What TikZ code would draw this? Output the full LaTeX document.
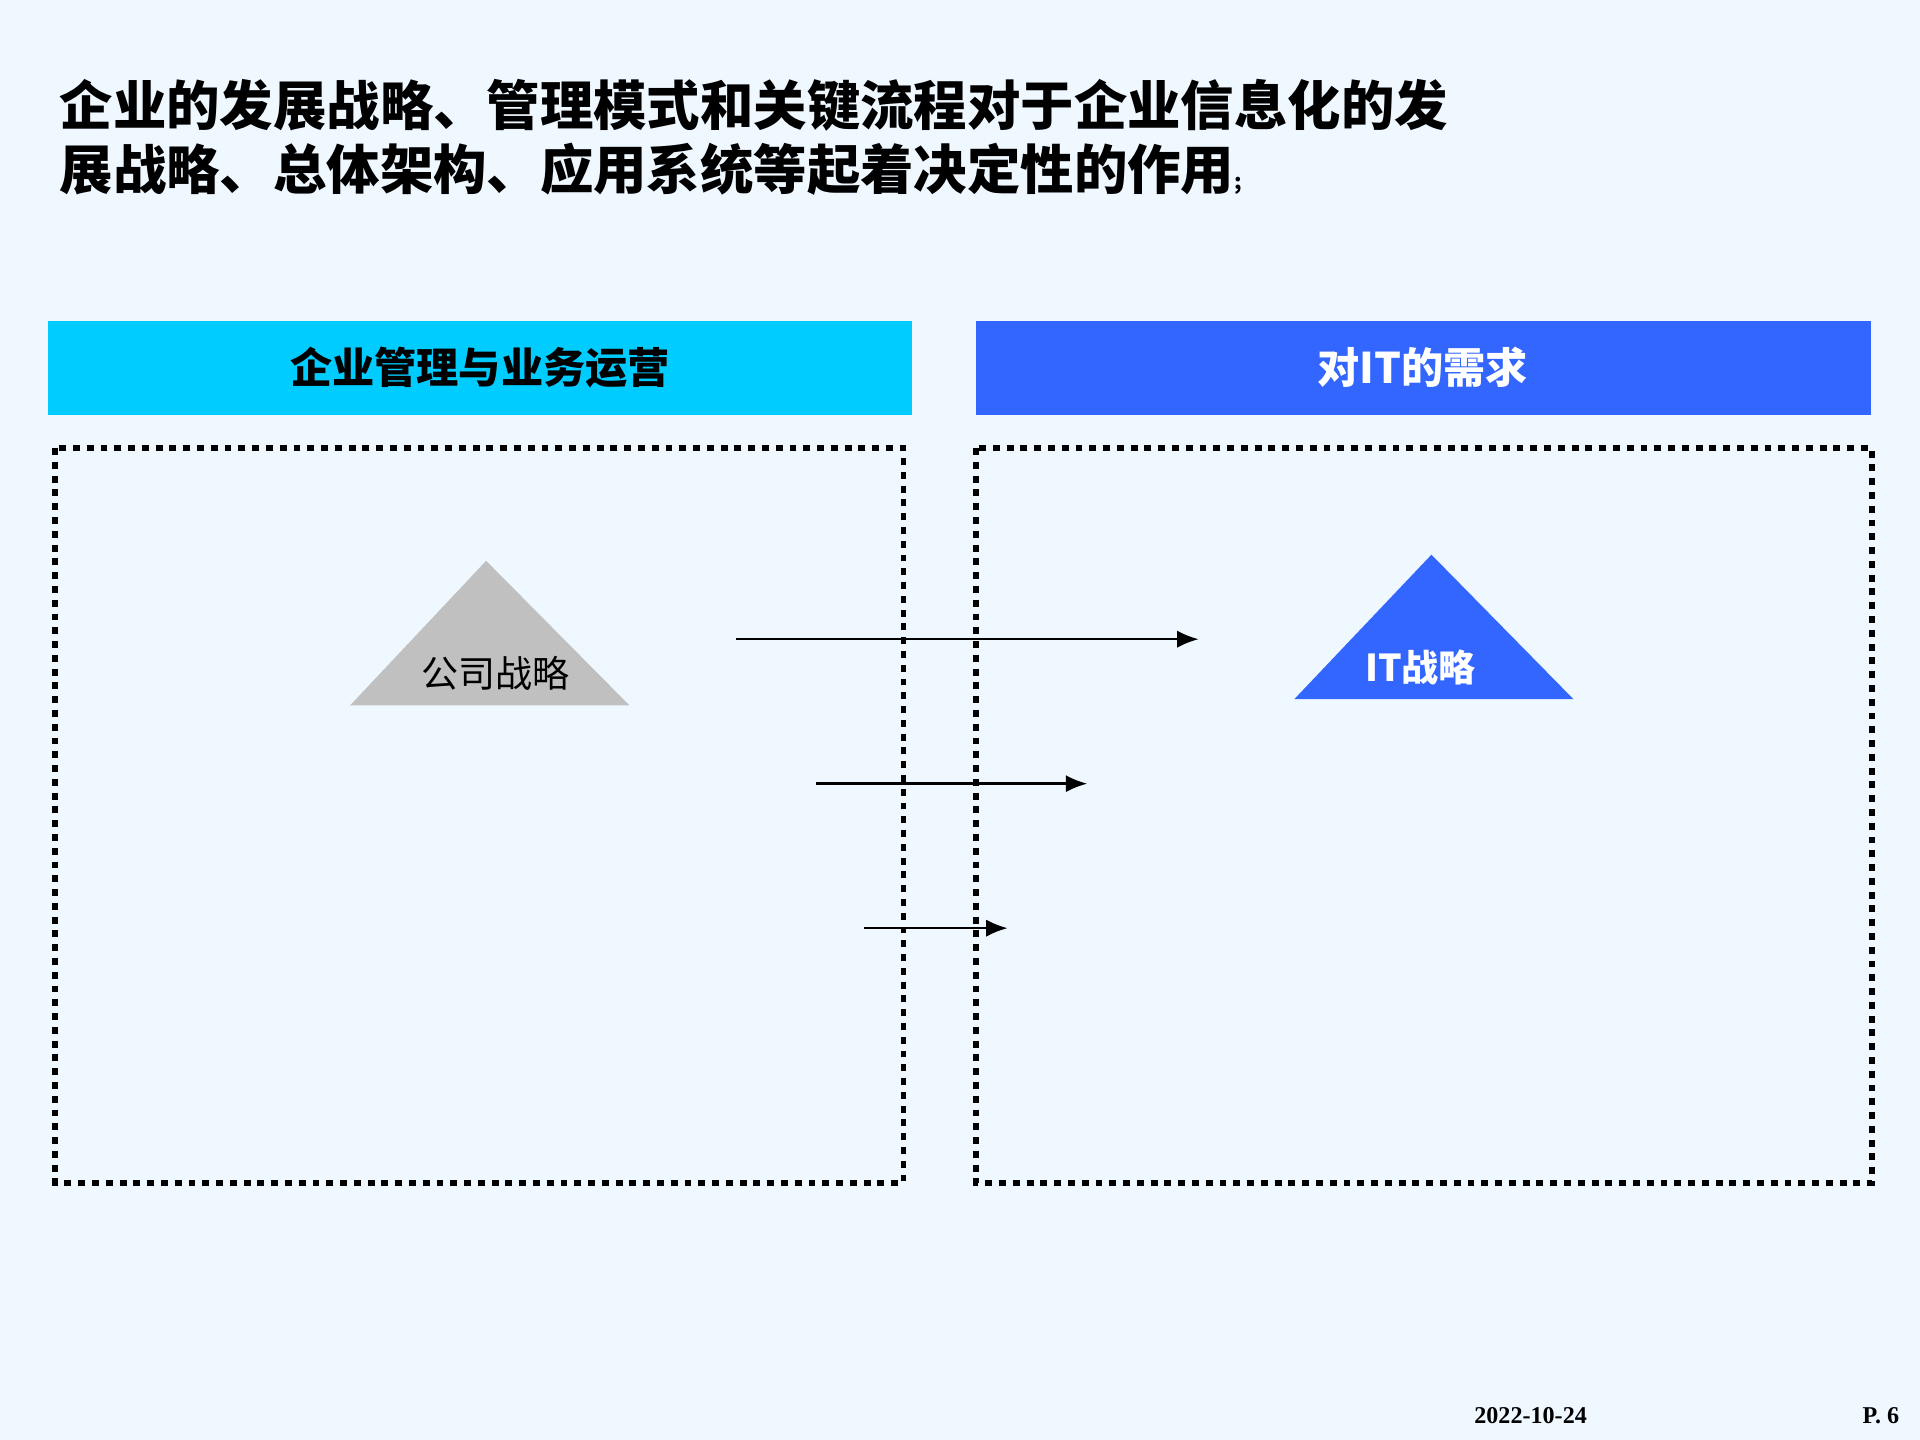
\documentclass[tikz,border=0pt]{standalone}
\usepackage{fontspec}
\newfontfamily\cjk{Noto Sans CJK SC}
\setmainfont{Liberation Serif}
\usetikzlibrary{arrows.meta}
\definecolor{bg}{RGB}{240,248,255}
\definecolor{cyanhd}{RGB}{0,204,255}
\definecolor{bluehd}{RGB}{51,102,255}
\definecolor{tri}{RGB}{192,192,192}
\tikzset{
  hd/.style={anchor=north west,inner sep=0pt},
  dotbox/.style={draw=black,line width=1.3pt,dash pattern=on 1.6pt off 1.6pt},
  conn/.style={-{Latex[length=5pt,width=4pt]},line width=0.6pt}
}
\begin{document}
\begin{tikzpicture}[x=0.01cm,y=-0.01cm]
\fill[bg] (0,0) rectangle (1568,1176);
\useasboundingbox (0,0) rectangle (1568,1176);
\node[anchor=west,inner sep=0pt,font=\cjk\bfseries\fontsize{12.4}{14}\selectfont] (t1) at (48,86) {企业的发展战略、管理模式和关键流程对于企业信息化的发};
\node[anchor=west,inner sep=0pt,font=\cjk\bfseries\fontsize{12.4}{14}\selectfont] (t2) at (48,138) {展战略、总体架构、应用系统等起着决定性的作用\fontsize{5}{6}\selectfont ;};
\fill[cyanhd] (39,262) rectangle (745,339);
\fill[bluehd] (797,262) rectangle (1528,339);
\node[font=\cjk\bfseries\fontsize{9.8}{12}\selectfont] (h1) at (392,300) {企业管理与业务运营};
\node[font=\cjk\bfseries\fontsize{9.8}{12}\selectfont,text=white] (h2) at (1162,300) {对IT的需求};
\draw[dotbox] (45,366) rectangle (738,966);
\draw[dotbox] (797,366) rectangle (1529,966);
\fill[tri] (397,458) -- (514,576) -- (286,576) -- cycle;
\fill[bluehd] (1169,453) -- (1285,571) -- (1057,571) -- cycle;
\node[font=\cjk\fontsize{8.6}{10}\selectfont] (cs) at (405,550) {公司战略};
\node[font=\cjk\bfseries\fontsize{8.6}{10}\selectfont,text=white] (its) at (1160,545) {IT战略};
\coordinate (a1) at (601,522); \coordinate (b1) at (979,522);
\coordinate (a2) at (666,640); \coordinate (b2) at (888,640);
\coordinate (a3) at (706,758); \coordinate (b3) at (823,758);
\draw[conn] (a1) -- (b1);
\draw[conn] (a2) -- (b2);
\draw[conn] (a3) -- (b3);
\node[font=\bfseries\fontsize{5.6}{7}\selectfont] (d) at (1250,1156) {2022-10-24};
\node[font=\bfseries\fontsize{5.6}{7}\selectfont] (p) at (1536,1156) {P. 6};
\end{tikzpicture}
\end{document}
